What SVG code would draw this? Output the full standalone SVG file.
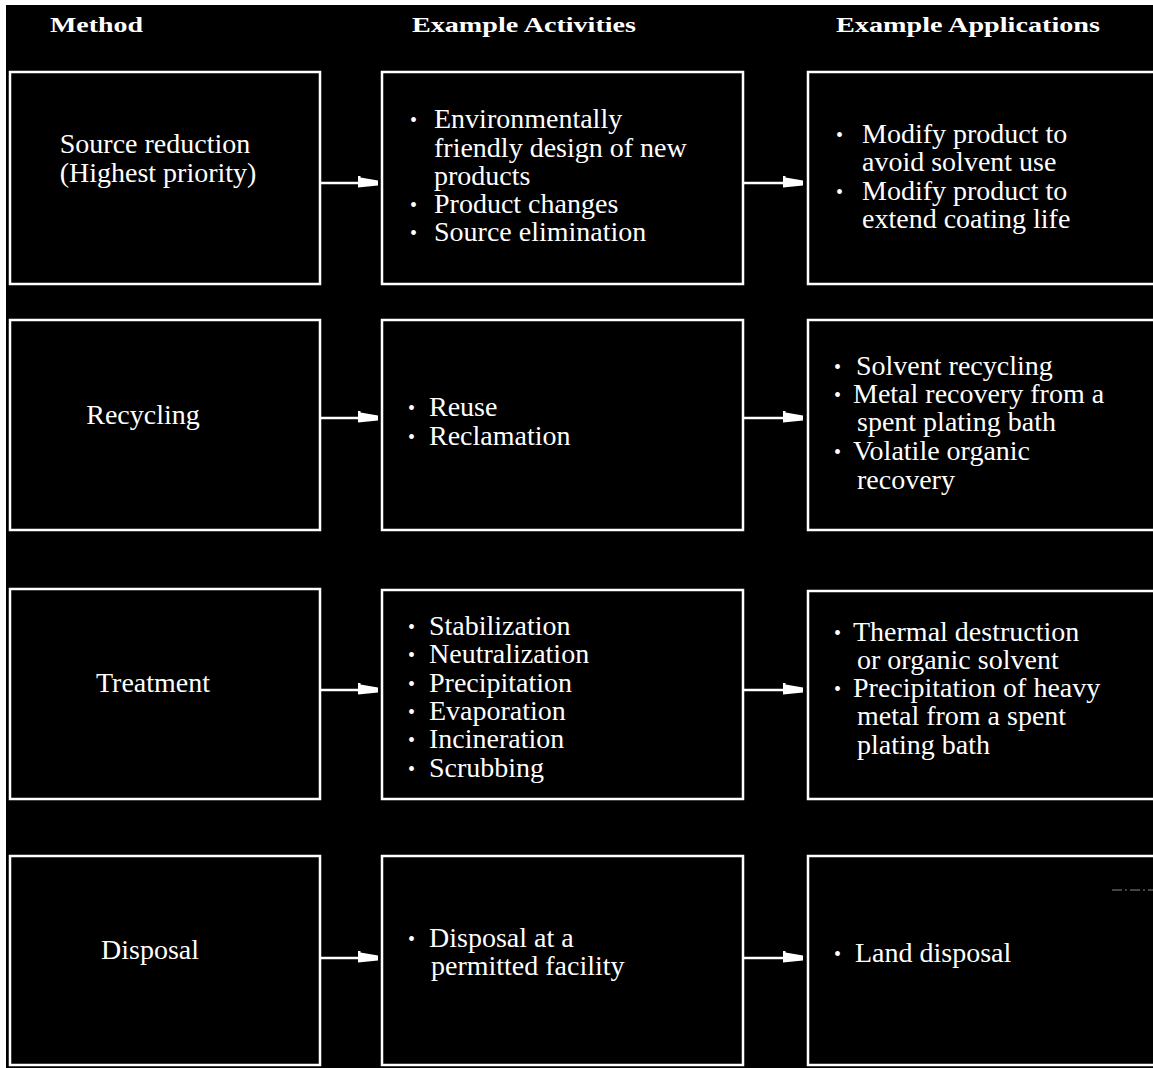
<svg xmlns="http://www.w3.org/2000/svg" width="1153" height="1068" viewBox="0 0 1153 1068">
<defs>
<style>
.box{fill:#000;stroke:#fff;stroke-width:2.5}
.t{fill:#fff;font-family:"Liberation Serif","Times New Roman",serif;font-size:28px}
.h{fill:#fff;font-family:"Liberation Serif","Times New Roman",serif;font-size:22px;font-weight:bold}
.c{text-anchor:middle}
.b{font-size:20px}
.con line{stroke:#fff;stroke-width:2.5}
</style>
<marker id="ah" markerWidth="8" markerHeight="6" refX="8" refY="3" orient="auto" markerUnits="strokeWidth">
<path d="M0,0 L1,0 L1,0.8 L8,2 L8,4 L0,4.8 Z" fill="#fff"/>
</marker>
</defs>
<rect x="0" y="0" width="1153" height="1068" fill="#fff"/>
<rect x="6" y="5" width="1147" height="1063" fill="#000"/>

<g id="headers">
<text class="h" x="50" y="32" textLength="93" lengthAdjust="spacingAndGlyphs">Method</text>
<text class="h" x="412" y="32" textLength="224" lengthAdjust="spacingAndGlyphs">Example Activities</text>
<text class="h" x="836" y="32" textLength="264" lengthAdjust="spacingAndGlyphs">Example Applications</text>
</g>

<g id="connectors" class="con">
<line x1="320" y1="183" x2="378" y2="183" marker-end="url(#ah)"/>
<line x1="743" y1="183" x2="803" y2="183" marker-end="url(#ah)"/>
<line x1="320" y1="418" x2="378" y2="418" marker-end="url(#ah)"/>
<line x1="743" y1="418" x2="803" y2="418" marker-end="url(#ah)"/>
<line x1="320" y1="690" x2="378" y2="690" marker-end="url(#ah)"/>
<line x1="743" y1="690" x2="803" y2="690" marker-end="url(#ah)"/>
<line x1="320" y1="958" x2="378" y2="958" marker-end="url(#ah)"/>
<line x1="743" y1="958" x2="803" y2="958" marker-end="url(#ah)"/>
</g>

<g id="source-reduction">
<rect class="box" x="10" y="72" width="310" height="212"/>
<text class="t c" x="155" y="153">Source reduction</text>
<text class="t c" x="158" y="182">(Highest priority)</text>
</g>
<g id="source-activities">
<rect class="box" x="382" y="72" width="361" height="212"/>
<text class="t b" x="410" y="127">•</text><text class="t" x="434" y="128">Environmentally</text>
<text class="t" x="434" y="157">friendly design of new</text>
<text class="t" x="434" y="185">products</text>
<text class="t b" x="410" y="212">•</text><text class="t" x="434" y="213">Product changes</text>
<text class="t b" x="410" y="240">•</text><text class="t" x="434" y="241">Source elimination</text>
</g>
<g id="source-applications">
<rect class="box" x="808" y="72" width="360" height="212"/>
<text class="t b" x="836" y="142">•</text><text class="t" x="862" y="143">Modify product to</text>
<text class="t" x="862" y="171">avoid solvent use</text>
<text class="t b" x="836" y="199">•</text><text class="t" x="862" y="200">Modify product to</text>
<text class="t" x="862" y="228">extend coating life</text>
</g>

<g id="recycling">
<rect class="box" x="10" y="320" width="310" height="210"/>
<text class="t c" x="143" y="424">Recycling</text>
</g>
<g id="recycling-activities">
<rect class="box" x="382" y="320" width="361" height="210"/>
<text class="t b" x="408" y="415">•</text><text class="t" x="429" y="416">Reuse</text>
<text class="t b" x="408" y="444">•</text><text class="t" x="429" y="445">Reclamation</text>
</g>
<g id="recycling-applications">
<rect class="box" x="808" y="320" width="360" height="210"/>
<text class="t b" x="834" y="374">•</text><text class="t" x="856" y="375">Solvent recycling</text>
<text class="t b" x="834" y="402">•</text><text class="t" x="853" y="403">Metal recovery from a</text>
<text class="t" x="857" y="431">spent plating bath</text>
<text class="t b" x="834" y="459">•</text><text class="t" x="853" y="460">Volatile organic</text>
<text class="t" x="857" y="489">recovery</text>
</g>

<g id="treatment">
<rect class="box" x="10" y="589" width="310" height="210"/>
<text class="t c" x="153" y="692">Treatment</text>
</g>
<g id="treatment-activities">
<rect class="box" x="382" y="590" width="361" height="209"/>
<text class="t b" x="408" y="634">•</text><text class="t" x="429" y="635">Stabilization</text>
<text class="t b" x="408" y="662">•</text><text class="t" x="429" y="663">Neutralization</text>
<text class="t b" x="408" y="691">•</text><text class="t" x="429" y="692">Precipitation</text>
<text class="t b" x="408" y="719">•</text><text class="t" x="429" y="720">Evaporation</text>
<text class="t b" x="408" y="747">•</text><text class="t" x="429" y="748">Incineration</text>
<text class="t b" x="408" y="776">•</text><text class="t" x="429" y="777">Scrubbing</text>
</g>
<g id="treatment-applications">
<rect class="box" x="808" y="591" width="360" height="208"/>
<text class="t b" x="834" y="640">•</text><text class="t" x="853" y="641">Thermal destruction</text>
<text class="t" x="857" y="669">or organic solvent</text>
<text class="t b" x="834" y="696">•</text><text class="t" x="853" y="697">Precipitation of heavy</text>
<text class="t" x="857" y="725">metal from a spent</text>
<text class="t" x="857" y="754">plating bath</text>
</g>

<g id="disposal">
<rect class="box" x="10" y="856" width="310" height="209"/>
<text class="t c" x="150" y="959">Disposal</text>
</g>
<g id="disposal-activities">
<rect class="box" x="382" y="856" width="361" height="209"/>
<text class="t b" x="408" y="946">•</text><text class="t" x="429" y="947">Disposal at a</text>
<text class="t" x="431" y="975">permitted facility</text>
</g>
<g id="disposal-applications">
<rect class="box" x="808" y="856" width="360" height="209"/>
<text class="t b" x="834" y="961">•</text><text class="t" x="855" y="962">Land disposal</text>
</g>

<line x1="1112" y1="890" x2="1153" y2="890" stroke="#888" stroke-width="1" stroke-dasharray="10,3,2,3"/>
</svg>
